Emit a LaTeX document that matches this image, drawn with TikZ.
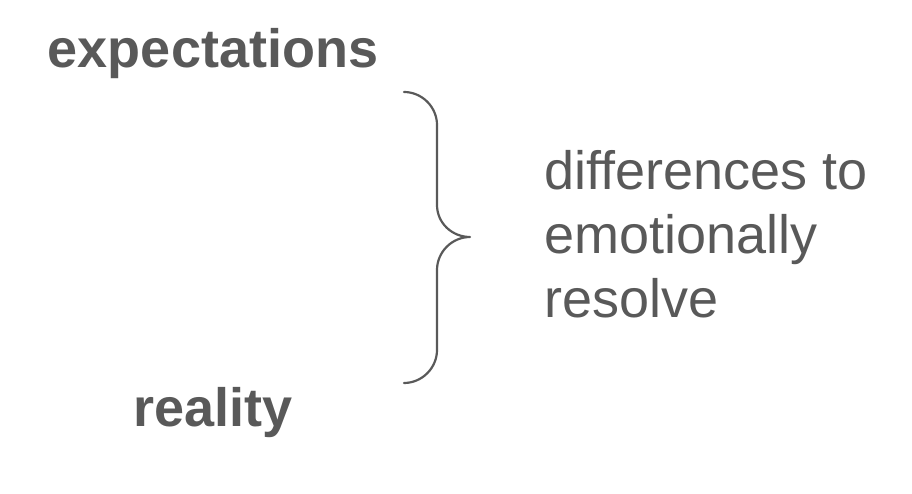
\documentclass[tikz,border=0pt]{standalone}
\usepackage{fontspec}
\setmainfont{Liberation Sans}
\definecolor{txtgray}{HTML}{595959}
\begin{document}
\begin{tikzpicture}[x=1pt,y=1pt,
  lbl/.style={inner sep=0pt,text=txtgray,font=\fontsize{54}{64}\selectfont},
  blbl/.style={lbl,font=\fontsize{54}{64}\selectfont\bfseries},
  brace/.style={draw=txtgray,line width=2.2pt,line cap=round,line join=round}]
\useasboundingbox (0,0) rectangle (912,494);
\node[blbl,anchor=base] (exp) at (213,426) {expectations};
\node[blbl,anchor=base] (real) at (213,67) {reality};
\node[lbl,anchor=base west] (d1) at (544,304) {differences to};
\node[lbl,anchor=base west] (d2) at (544,240) {emotionally};
\node[lbl,anchor=base west] (d3) at (544,176) {resolve};
\coordinate (btop) at (404,402);
\coordinate (btip) at (470,257);
\coordinate (bbot) at (404,111);
\draw[brace] (btop) .. controls (422,402) and (437,387) .. (437,369)
  -- (437,289) .. controls (437,271) and (452,257) .. (btip)
  .. controls (452,257) and (437,242) .. (437,224)
  -- (437,144) .. controls (437,126) and (422,111) .. (bbot);
\end{tikzpicture}
\end{document}
